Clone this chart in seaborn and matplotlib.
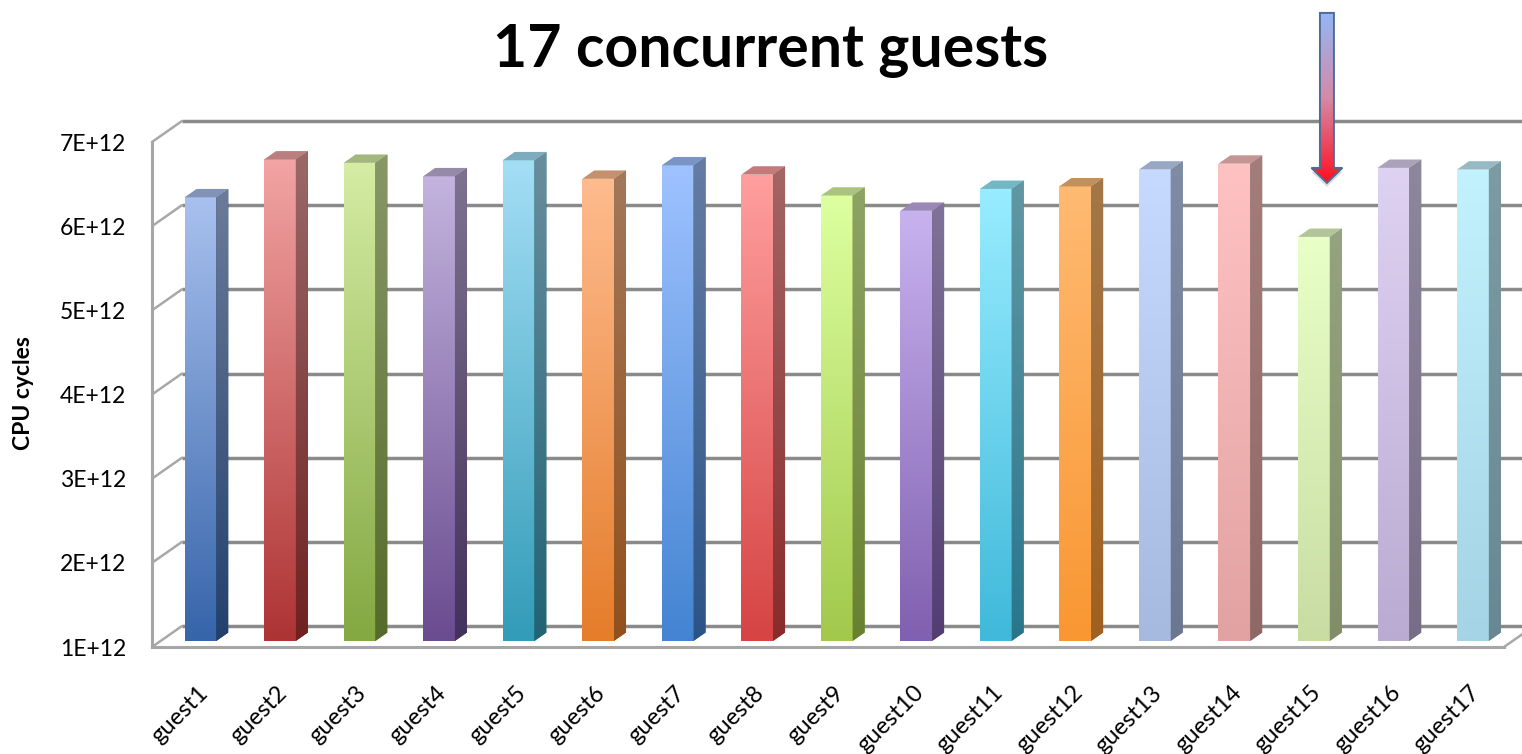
import numpy as np
import pandas as pd
import matplotlib
matplotlib.use("Agg")
import matplotlib.pyplot as plt
from matplotlib.patches import Polygon
from matplotlib.colors import to_rgb
import matplotlib.transforms as mtransforms
import seaborn as sns

# ---- data -------------------------------------------------------------
guests = [f"guest{i}" for i in range(1, 18)]
cpu_cycles = [6.27e12, 6.72e12, 6.68e12, 6.52e12, 6.71e12, 6.49e12,
              6.65e12, 6.54e12, 6.29e12, 6.11e12, 6.37e12, 6.40e12,
              6.60e12, 6.67e12, 5.80e12, 6.62e12, 6.60e12]
y_ticks = [1e12, 2e12, 3e12, 4e12, 5e12, 6e12, 7e12]
y_tick_labels = ["1E+12", "2E+12", "3E+12", "4E+12", "5E+12", "6E+12", "7E+12"]
highlight = "guest15"

# light (top) and deep (bottom) shade of each column's front face
top_colors = ["#A8C0EE", "#F2A3A3", "#D4ECA3", "#C3B3DE", "#A3DEF5", "#FEBB8E",
              "#9EC2FF", "#FF9E9E", "#DDFFA0", "#C8B2EE", "#98ECFF", "#FFBA72",
              "#C6DAFF", "#FFC2C2", "#E8FFC8", "#DED2F2", "#C2F2FD"]
bottom_colors = ["#3765AA", "#AE3434", "#84A842", "#6A4C90", "#339CB8", "#E57D2B",
                 "#4484D2", "#D64444", "#A2C94C", "#8060B0", "#40B9DA", "#F99733",
                 "#A6BADF", "#E2A2A2", "#C9DDA3", "#BAABD2", "#A4D4E5"]

BASE = 1e12
FONT = "Lato"

# ---- figure / axes ----------------------------------------------------
sns.set_style("white")
plt.rcParams["font.family"] = [FONT, "DejaVu Sans"]
plt.rcParams["text.color"] = "black"
W, H = 1522, 754
fig = plt.figure(figsize=(W / 100, H / 100), dpi=100)
ax = fig.add_axes([152 / W, 107 / H, (1504 - 152) / W, 505 / H])

df = pd.DataFrame({"guest": guests, "cycles": cpu_cycles})
sns.barplot(data=df, x="guest", y="cycles", hue="guest", palette=bottom_colors,
            width=0.4, saturation=1, legend=False, ax=ax)
ax.set_xlim(-0.5, len(guests) - 0.5)
ax.set_ylim(1e12, 7e12)

# depth of the 3-D box (30 px right, 21 px up) expressed in data units
inv = ax.transData.inverted()
o = inv.transform((0, 0))
d = inv.transform((30, 21))
DX, DY = d[0] - o[0], d[1] - o[1]
px = inv.transform((1, 1)) - o          # one pixel in data units

x_lo, x_hi = ax.get_xlim()

# ---- walls / gridlines ------------------------------------------------
wall = "#8A8A8A"
side = "#A8A8A8"
for yv in y_ticks:
    ax.plot([x_lo + DX, x_hi + DX + 1], [yv + DY, yv + DY], color=wall, lw=2.5,
            solid_capstyle="butt", zorder=0.5, clip_on=False)
    ax.plot([x_lo, x_lo + DX], [yv, yv + DY], color=side, lw=1.8,
            zorder=0.6, clip_on=False)
# right edge of the floor
ax.plot([x_hi, x_hi + DX], [BASE, BASE + DY], color=side, lw=1.8,
        zorder=0.6, clip_on=False)


def darken(c, f):
    return tuple(np.clip(np.array(to_rgb(c)) * f, 0, 1))


def vgrad(c_top, c_bot, n=64):
    t = np.linspace(0, 1, n)[:, None]
    a = np.array(to_rgb(c_top))[None, :]
    b = np.array(to_rgb(c_bot))[None, :]
    return (a * (1 - t) + b * t)[:, None, :]


def shaded_image(rgb, extent, clip, z):
    im = ax.imshow(rgb, extent=extent, aspect="auto", interpolation="bilinear",
                   zorder=z, origin="upper")
    im.set_clip_box(fig.bbox)
    im.set_clip_path(clip)
    return im


# ---- 3-D columns ------------------------------------------------------
F, B = 0.29, 0.69          # front / back depth of the columns inside the box
bars = [p for p in ax.patches][:len(guests)]
for i, bar in enumerate(bars):
    value = bar.get_height()
    x0 = bar.get_x() + F * DX
    w = bar.get_width()
    x1 = x0 + w
    y0 = BASE + F * DY
    y1 = value + F * DY
    bar.set_x(x0)
    bar.set_y(y0)
    bar.set_height(value - BASE)
    bar.set_edgecolor("none")
    bar.set_zorder(2)
    bar.set_clip_on(False)

    ct, cb = top_colors[i], bottom_colors[i]
    shaded_image(vgrad(ct, cb), (x0, x1, y0, y1), bar, 2.1)

    ddx, ddy = (B - F) * DX, (B - F) * DY
    side_poly = Polygon([(x1, y0), (x1 + ddx, y0 + ddy), (x1 + ddx, y1 + ddy), (x1, y1)],
                        closed=True, facecolor=darken(cb, 0.64), edgecolor="none",
                        zorder=2.2, clip_on=False)
    ax.add_patch(side_poly)
    shaded_image(vgrad(darken(ct, 0.64), darken(cb, 0.64)),
                 (x1, x1 + ddx, y0, y1 + ddy), side_poly, 2.25)

    top_poly = Polygon([(x0, y1), (x1, y1), (x1 + ddx, y1 + ddy), (x0 + ddx, y1 + ddy)],
                       closed=True, facecolor=darken(ct, 0.77), edgecolor="none",
                       zorder=2.3, clip_on=False)
    ax.add_patch(top_poly)

# ---- axes lines, ticks and labels -------------------------------------
for s in ["top", "right"]:
    ax.spines[s].set_visible(False)
for s in ["left", "bottom"]:
    ax.spines[s].set_color("#A6A6A6")
    ax.spines[s].set_linewidth(2.2)
    ax.spines[s].set_zorder(3)

ax.set_yticks(y_ticks, y_tick_labels)
ax.tick_params(axis="y", direction="out", length=5.5, width=1.8, color="#A6A6A6",
               pad=13, labelsize=16.5, labelcolor="black")
ax.set_xticks(np.arange(x_lo, x_hi + 0.01, 1.0), minor=True)
ax.set_xticks([])
ax.tick_params(axis="x", which="minor", direction="out", length=6, width=1.8,
               color="#A6A6A6")
ax.set_xlabel("")
ax.set_ylabel("")
fig.text(24 / W, (H - 393) / H, "CPU cycles", rotation=90, ha="center", va="center",
         fontsize=16.5, fontweight="bold", color="black")

label_tf = mtransforms.offset_copy(ax.transData, fig=fig, x=5, y=-35, units="dots")
for i, g in enumerate(guests):
    ax.text(i, BASE, g, transform=label_tf, rotation=45, rotation_mode="anchor",
            ha="right", va="top", fontsize=17, color="black", clip_on=False)

fig.text(771 / W, (H - 67) / H, "17 concurrent guests", ha="center",
         va="baseline", fontsize=42.5, fontweight="bold", color="black")

# ---- arrow pointing at the highlighted guest --------------------------
hi = guests.index(highlight)
ax_c = hi + 21.75 * px[0]
tip_y = cpu_cycles[hi] + 54 * px[1] + F * DY
tail_y = tip_y + 170 * px[1]
head_len = 15 * px[1]
sw, hw = 7 * px[0], 15.5 * px[0]
arrow_pts = [(ax_c - sw, tail_y), (ax_c + sw, tail_y), (ax_c + sw, tip_y + head_len),
             (ax_c + hw, tip_y + head_len), (ax_c, tip_y), (ax_c - hw, tip_y + head_len),
             (ax_c - sw, tip_y + head_len)]
shadow = Polygon([(x, y - 4 * px[1]) for x, y in arrow_pts], closed=True,
                 facecolor="#9A9A9A", edgecolor="none", alpha=0.35, zorder=3.9,
                 clip_on=False)
ax.add_patch(shadow)
fill = Polygon(arrow_pts, closed=True, facecolor="#D07A9A", edgecolor="none",
               zorder=4.0, clip_on=False)
ax.add_patch(fill)
t = np.linspace(0, 1, 128)[:, None]
c_a, c_b, c_c = (np.array(to_rgb(c)) for c in ("#93B7F7", "#D58AA8", "#FF1022"))
grad = np.where(t < 0.5, c_a * (1 - t / 0.5) + c_b * (t / 0.5),
                c_b * (1 - (t - 0.5) / 0.5) + c_c * ((t - 0.5) / 0.5))[:, None, :]
shaded_image(grad, (ax_c - hw, ax_c + hw, tip_y, tail_y), fill, 4.1)
arrow = Polygon(arrow_pts, closed=True, facecolor="none", edgecolor="#4F6B96",
                lw=1.4, zorder=4.2, clip_on=False)
ax.add_patch(arrow)

ax.set_xlim(x_lo, x_hi)
ax.set_ylim(1e12, 7e12)

fig.savefig("out.png", dpi=100)
